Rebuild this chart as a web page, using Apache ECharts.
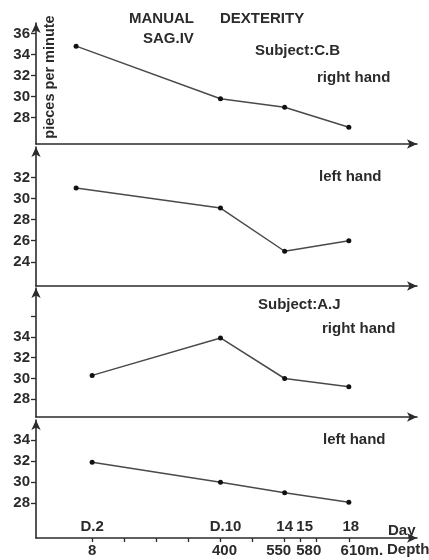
<!DOCTYPE html>
<html>
<head>
<meta charset="utf-8">
<script src="https://cdn.jsdelivr.net/npm/echarts@6/dist/echarts.min.js"></script>
<style>html,body{margin:0;padding:0;background:#fff}#c{width:429px;height:560px}</style>
</head>
<body>
<div id="c"></div>
<script>
// ---- data ----
const daysCB = [1, 10, 14, 18];
const cbRight = [34.8, 29.8, 29.0, 27.1];
const cbLeft = [31.0, 29.1, 25.0, 26.0];
const daysAJ = [2, 10, 14, 18];
const ajRight = [30.3, 33.9, 30.0, 29.2];
const ajLeft = [31.9, 30.0, 29.0, 28.1];
const dayTicks = [2, 4, 6, 8, 10, 12, 14, 15, 16, 18];
const dayLabelValues = [2, 10, 14, 15, 18];
const dayLabelTexts = ['D.2', 'D.10', '14', '15', '18'];
const depthLabelValues = [2, 10, 14, 15.5, 18];
const depthLabelTexts = ['8', '400', '550', '580', '610m.'];
const yTicks1 = [28, 30, 32, 34, 36];
const yTicks2 = [24, 26, 28, 30, 32];
const yTicks3 = [28, 30, 32, 34, 36];
const yLabels3 = [28, 30, 32, 34];
const yTicks4 = [28, 30, 32, 34];

const FONT = 'Liberation Sans';
const INK = '#2b2b2b';

const panels = [
  {top: 23, height: 121, min: 25.5, max: 37, ticks: yTicks1, labels: yTicks1, days: daysCB, vals: cbRight},
  {top: 147, height: 139, min: 21.7, max: 34.9, ticks: yTicks2, labels: yTicks2, days: daysCB, vals: cbLeft},
  {top: 288, height: 129, min: 26.3, max: 38.7, ticks: yTicks3, labels: yLabels3, days: daysAJ, vals: ajRight},
  {top: 420, height: 118, min: 24.7, max: 35.9, ticks: yTicks4, labels: yTicks4, days: daysAJ, vals: ajLeft}
];

// small visual nudges (px) for crowded bottom labels, keyed by label index
const dayNudge = [0, 5, 0, 4, 2];
const depthNudge = [0, 4, -6, 0, 13];
function nudged(text, px) {
  if (!px) return text;
  return '{' + (px > 0 ? 'r' : 'l') + Math.abs(px) + '|' + text + '}';
}
function richFor(size) {
  const r = {};
  for (let k = 1; k <= 16; k++) {
    r['r' + k] = {padding: [0, 0, 0, 2 * k], color: INK, fontFamily: FONT, fontSize: size, fontWeight: 'bold'};
    r['l' + k] = {padding: [0, 2 * k, 0, 0], color: INK, fontFamily: FONT, fontSize: size, fontWeight: 'bold'};
  }
  return r;
}

const axisLineStyle = {color: INK, width: 1.6};
const grid = [], xAxis = [], yAxis = [], series = [];
panels.forEach((p, i) => {
  grid.push({left: 36, right: 12, top: p.top, height: p.height, containLabel: false, outerBoundsMode: 'none'});
  const last = i === panels.length - 1;
  xAxis.push({
    type: 'value', gridIndex: i, min: -1.5, max: 22.25,
    axisLine: {show: true, onZero: false, lineStyle: axisLineStyle, symbol: ['none', 'arrow'], symbolSize: [7, 10]},
    axisTick: last ? {show: true, length: 4, lineStyle: {color: INK, width: 1.3}, customValues: dayTicks} : {show: false},
    axisLabel: last ? {
      show: true, inside: true, margin: 4, customValues: dayLabelValues,
      formatter: v => { const k = dayLabelValues.indexOf(v); return k < 0 ? '' : nudged(dayLabelTexts[k], dayNudge[k]); },
      color: INK, fontFamily: FONT, fontSize: 15, fontWeight: 'bold', rich: richFor(15)
    } : {show: false},
    splitLine: {show: false}
  });
  yAxis.push({
    type: 'value', gridIndex: i, min: p.min, max: p.max,
    axisLine: {show: true, onZero: false, lineStyle: axisLineStyle, symbol: ['none', 'arrow'], symbolSize: [7, 10]},
    axisTick: {show: true, length: 5, lineStyle: {color: INK, width: 1.3}, customValues: p.ticks},
    axisLabel: {show: true, margin: 6, customValues: p.labels, color: INK, fontFamily: FONT, fontSize: 15, fontWeight: 'bold'},
    splitLine: {show: false}
  });
  series.push({
    type: 'line', xAxisIndex: i, yAxisIndex: i,
    data: p.days.map((d, k) => [d, p.vals[k]]),
    symbol: 'circle', symbolSize: 5,
    itemStyle: {color: '#111'},
    lineStyle: {color: '#4a4a4a', width: 1.5},
    silent: true
  });
});
// depth labels axis (under the bottom panel)
xAxis.push({
  type: 'value', gridIndex: 3, min: -1.5, max: 22.25, position: 'bottom',
  axisLine: {show: false, onZero: false}, axisTick: {show: false}, splitLine: {show: false},
  axisLabel: {
    show: true, margin: 5, customValues: depthLabelValues,
    formatter: v => { const k = depthLabelValues.indexOf(v); return k < 0 ? '' : nudged(depthLabelTexts[k], depthNudge[k]); },
    color: INK, fontFamily: FONT, fontSize: 15, fontWeight: 'bold', rich: richFor(15)
  }
});

function txt(x, y, text, size, extra) {
  return Object.assign({
    type: 'text', x: x, y: y,
    style: {text: text, fill: INK, font: 'bold ' + (size || 15) + 'px "' + FONT + '"', textAlign: 'left', textVerticalAlign: 'middle'}
  }, extra || {});
}
const graphic = [
  txt(129, 19, 'MANUAL'),
  txt(220, 19, 'DEXTERITY'),
  txt(143, 39, 'SAG.IV'),
  txt(255, 51, 'Subject:C.B'),
  txt(317, 78, 'right hand'),
  txt(319, 177, 'left hand'),
  txt(258, 305, 'Subject:A.J'),
  txt(322, 329, 'right hand'),
  txt(323, 440, 'left hand'),
  txt(388, 531, 'Day'),
  txt(387, 550, 'Depth'),
  {type: 'text', x: 50, y: 77, rotation: Math.PI / 2,
   style: {text: 'pieces per minute', fill: INK, font: 'bold 14.5px "' + FONT + '"', textAlign: 'center', textVerticalAlign: 'middle'}}
];

const chart = echarts.init(document.getElementById('c'), null, {renderer: 'canvas'});
chart.setOption({
  animation: false,
  backgroundColor: '#ffffff',
  grid: grid, xAxis: xAxis, yAxis: yAxis, series: series, graphic: graphic
});
</script>
</body>
</html>
